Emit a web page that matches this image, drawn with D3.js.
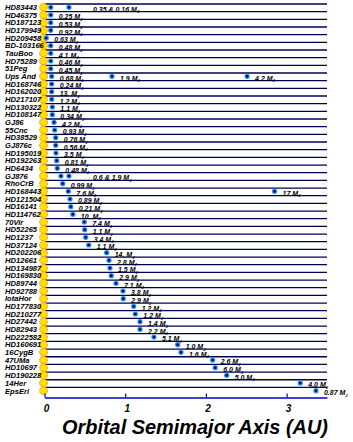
<!DOCTYPE html>
<html lang="en">
<head>
<meta charset="UTF-8">
<title>Orbital Semimajor Axis</title>
<script src="https://d3js.org/d3.v7.min.js"></script>
<style>
  body { margin: 0; background: #fff; }
  svg text { font-family: "Liberation Sans", Arial, sans-serif; font-weight: bold; font-style: italic; }
</style>
</head>
<body>
<div id="chart"></div>
<script>
// star names, top to bottom
const stars = ["HD83443", "HD46375", "HD187123", "HD179949", "HD209458", "BD-103166", "TauBoo", "HD75289",
  "51Peg", "Ups And", "HD168746", "HD162020", "HD217107", "HD130322", "HD108147", "GJ86", "55Cnc",
  "HD38529", "GJ876c", "HD195019", "HD192263", "HD6434", "GJ876", "RhoCrB", "HD168443", "HD121504",
  "HD16141", "HD114762", "70Vir", "HD52265", "HD1237", "HD37124", "HD202206", "HD12661", "HD134987",
  "HD169830", "HD89744", "HD92788", "IotaHor", "HD177830", "HD210277", "HD27442", "HD82943",
  "HD222582", "HD160691", "16CygB", "47UMa", "HD10697", "HD190228", "14Her", "EpsEri"];

// semimajor axis of each planet (AU)
const orbitAU = [[0.077, 0.303], [0.077], [0.077], [0.077], [0.022], [0.077], [0.077], [0.077],
  [0.077], [0.089, 0.836, 2.51], [0.089], [0.089], [0.089], [0.097], [0.097], [0.118], [0.126],
  [0.139], [0.139], [0.142], [0.151], [0.159], [0.204, 0.303], [0.225], [0.295, 2.85], [0.316],
  [0.325], [0.351], [0.493], [0.498], [0.510], [0.548], [0.770], [0.799], [0.811],
  [0.827], [0.886], [0.972], [0.976], [1.105], [1.125], [1.183], [1.183],
  [1.356], [1.650], [1.691], [2.083], [2.115], [2.257], [3.169], [3.363]];

// mass labels (Jupiter masses); a joint label goes after the last planet
const massText = [["0.35 & 0.16"], ["0.25"], ["0.53"], ["0.92"], ["0.63"], ["0.48"], ["4.1"], ["0.46"],
  ["0.45"], ["0.68", "1.9", "4.2"], ["0.24"], ["13."], ["1.2"], ["1.1"], ["0.34"], ["4.2"], ["0.93"],
  ["0.76"], ["0.56"], ["3.5"], ["0.81"], ["0.48"], ["0.6 & 1.9"], ["0.99"], ["7.6", "17"], ["0.89"],
  ["0.21"], ["10."], ["7.4"], ["1.1"], ["3.4"], ["1.1"], ["14."], ["2.8"], ["1.5"],
  ["2.9"], ["7.1"], ["3.8"], ["2.9"], ["1.2"], ["1.2"], ["1.4"], ["2.2"],
  ["5.1"], ["1.0"], ["1.6"], ["2.6"], ["6.0"], ["5.0"], ["4.0"], ["0.87"]];

const tickValues = [0, 1, 2, 3];

const width = 353, height = 442;

const x = d3.scaleLinear().domain([0, 3.5]).range([44.5, 327]);
const y = d3.scalePoint().domain(stars).range([7.3, 390.7]);
const axisY = 397.5;

const svg = d3.select("#chart").append("svg")
  .attr("width", width)
  .attr("height", height);

// row lines
svg.append("g").selectAll("line")
  .data(stars)
  .join("line")
  .attr("x1", x(0))
  .attr("x2", x(3.5))
  .attr("y1", d => y(d) - 3.3)
  .attr("y2", d => y(d) - 3.3)
  .attr("stroke", "#000050")
  .attr("stroke-width", 1.3);

// the stars themselves
svg.append("g").selectAll("circle")
  .data(stars)
  .join("circle")
  .attr("cx", x(0) - 1)
  .attr("cy", d => y(d))
  .attr("r", 3.9)
  .attr("fill", "#ffe000")
  .attr("stroke", "#ff8a00")
  .attr("stroke-width", 1)
  .attr("stroke-dasharray", "1.5,0.8");

// star names
svg.append("g").selectAll("text")
  .data(stars)
  .join("text")
  .attr("x", 5)
  .attr("y", d => y(d) + 2.8)
  .attr("font-size", 7.6)
  .attr("fill", "#000")
  .text(d => d);

// planets
const planets = [];
const labels = [];
stars.forEach((s, i) => {
  orbitAU[i].forEach(a => planets.push({ star: s, a: a }));
  const n = orbitAU[i].length, m = massText[i].length;
  massText[i].forEach((t, j) => {
    labels.push({ star: s, a: orbitAU[i][n - m + j], text: t, joint: t.includes("&") });
  });
});

const pg = svg.append("g");
pg.selectAll("circle")
  .data(planets)
  .join("circle")
  .attr("cx", d => x(d.a))
  .attr("cy", d => y(d.star))
  .attr("r", 2.6)
  .attr("fill", "#1e8cff");
pg.selectAll("rect")
  .data(planets)
  .join("rect")
  .attr("x", d => x(d.a) - 1.1)
  .attr("y", d => y(d.star) - 1.1)
  .attr("width", 2.2)
  .attr("height", 2.2)
  .attr("fill", "#000030");

const lt = svg.append("g").selectAll("text")
  .data(labels)
  .join("text")
  .attr("x", d => x(d.a) + (d.joint ? 24 : 8))
  .attr("y", d => y(d.star) + 4.4)
  .attr("font-size", 7)
  .attr("fill", "#000");
lt.append("tspan").text(d => d.text + " M");
lt.append("tspan").attr("font-size", 4).attr("dy", 1.5).text("J");

// x axis
const axis = svg.append("g")
  .attr("transform", `translate(0,${axisY})`)
  .call(d3.axisBottom(x).tickValues(tickValues).tickSize(-4).tickSizeOuter(0).tickPadding(7).tickFormat(d3.format("d")));
axis.select(".domain").attr("stroke", "#0000c8").attr("stroke-width", 1.4);
axis.selectAll(".tick line").attr("stroke", "#0000c8").attr("stroke-width", 1.2);
axis.selectAll(".tick text")
  .attr("font-size", 10)
  .attr("font-family", "Liberation Sans, Arial, sans-serif")
  .attr("font-weight", "bold")
  .attr("font-style", "italic")
  .attr("dx", 1.5)
  .attr("fill", "#000");

// title
svg.append("text")
  .attr("x", 62)
  .attr("y", 434)
  .attr("font-size", 20.5)
  .attr("textLength", 266)
  .attr("lengthAdjust", "spacingAndGlyphs")
  .attr("fill", "#000")
  .style("font-family", "'Liberation Sans Narrow', 'Arial Narrow', 'Liberation Sans', sans-serif")
  .text("Orbital Semimajor Axis  (AU)");
</script>
</body>
</html>
